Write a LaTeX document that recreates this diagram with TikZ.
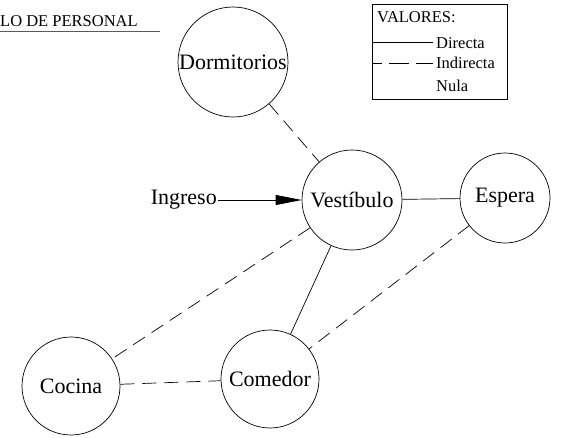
\documentclass[tikz,border=0pt]{standalone}
\usepackage{fontspec}
\setmainfont{Liberation Serif}[Ligatures=TeX]
\newfontfamily\roomfont{Liberation Serif}
\usetikzlibrary{arrows.meta}
\begin{document}
\begin{tikzpicture}[x=1pt,y=-1pt,
  room/.style={draw,circle,line width=0.7pt,inner sep=0pt,font=\roomfont\fontsize{22}{25}\selectfont},
  link/.style={line width=0.7pt},
  dlink/.style={line width=0.7pt,dash pattern=on 14pt off 8pt},
  small/.style={font=\roomfont\fontsize{16.5}{19}\selectfont,inner sep=0pt}]
\useasboundingbox (0,0) rectangle (563,437);
% title
\node[small,anchor=west] (title) at (0,21) {LO DE PERSONAL};
\draw[gray!70!black,line width=1pt] (0,31) coordinate (u1) -- (160,31) coordinate (u2);
% legend
\draw[line width=0.7pt] (372,4) rectangle (507,99);
\node[small,anchor=west] (val) at (377,17) {VALORES:};
\coordinate (l1a) at (373,42); \coordinate (l1b) at (433,42);
\draw[link] (l1a) -- (l1b);
\node[small,anchor=west] (dir) at (436,43) {Directa};
\coordinate (l2a) at (373,63); \coordinate (l2b) at (433,63);
\draw[line width=0.7pt,dash pattern=on 20pt off 7pt,dash phase=11pt] (l2a) -- (l2b);
\node[small,anchor=west] (ind) at (436,63) {Indirecta};
\node[small,anchor=west] (nul) at (436,86) {Nula};
% rooms
\node[room,minimum size=110pt] (dorm) at (233,62) {Dormitorios};
\node[room,minimum size=100pt] (vest) at (352,200) {Vestíbulo};
\node[room,minimum size=90pt] (esp) at (505,198) {Espera};
\node[room,minimum size=98pt] (coc) at (71,386) {Cocina};
\node[room,minimum size=98pt] (com) at (270,379) {Comedor};
% ingreso
\node[font=\roomfont\fontsize{22}{25}\selectfont,inner sep=1pt,anchor=east] (ing) at (218,200) {Ingreso};
\draw[link,-{Triangle[length=26pt,width=10pt]}] (ing) -- (vest);
% connections
\draw[dlink] (dorm) -- (vest);
\draw[link] (vest) -- (esp);
\draw[dlink] (vest) -- (coc);
\draw[link] (vest) -- (com);
\draw[dlink] (esp) -- (com);
\draw[dlink] (coc) -- (com);
\end{tikzpicture}
\end{document}
